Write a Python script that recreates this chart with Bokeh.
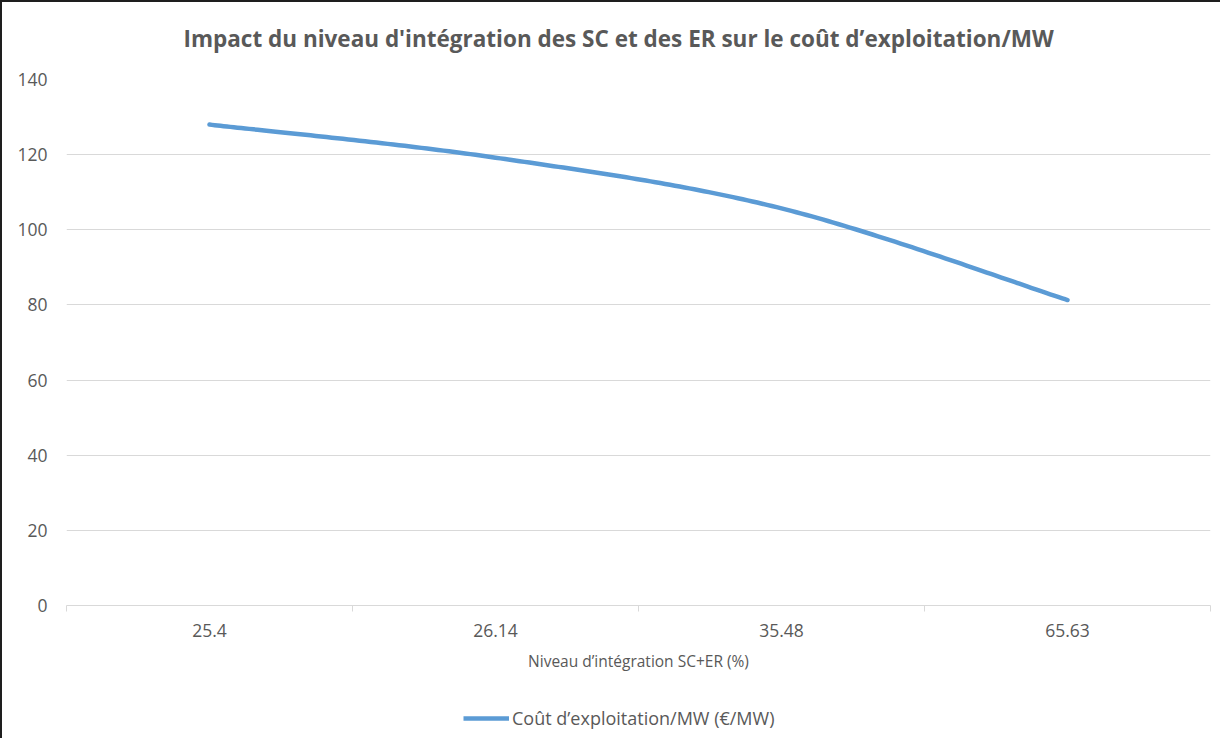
import numpy as np
from bokeh.plotting import figure
from bokeh.layouts import column
from bokeh.models import Range1d, FixedTicker, Legend, LegendItem, Label
from bokeh.embed import file_html
from bokeh.resources import INLINE

# ---- data ----
categories = ["25.4", "26.14", "35.48", "65.63"]
cost = [128.0, 119.2, 105.7, 81.3]
y_ticks = [0, 20, 40, 60, 80, 100, 120, 140]
title_text = "Impact  du niveau d'intégration des SC et des ER sur le coût d’exploitation/MW"
x_label = "Niveau d’intégration SC+ER (%)"
series_name = "Coût d’exploitation/MW (€/MW)"

GRAY = "#595959"
LINE = "#5B9BD5"
GRID = "#D9D9D9"
FONT = "Open Sans"
W = 1218

# category centres on a numeric axis (category i spans [i, i+1])
xs = np.arange(len(categories)) + 0.5
ys = np.array(cost, dtype=float)


def smooth_curve(x, y, n=60):
    """Excel-style smoothed line: cubic Bezier segments with Catmull-Rom controls."""
    P = np.column_stack([x, y])
    m = len(P)
    out = []
    t = np.linspace(0, 1, n)[:, None]
    for i in range(m - 1):
        p0 = P[i - 1] if i > 0 else P[i]
        p1 = P[i]
        p2 = P[i + 1]
        p3 = P[i + 2] if i + 2 < m else P[i + 1]
        c1 = p1 + (p2 - p0) / 6.0
        c2 = p2 - (p3 - p1) / 6.0
        seg = ((1 - t) ** 3) * p1 + 3 * ((1 - t) ** 2) * t * c1 + 3 * (1 - t) * (t ** 2) * c2 + (t ** 3) * p2
        out.append(seg if i == 0 else seg[1:])
    pts = np.vstack(out)
    return pts[:, 0], pts[:, 1]


cx, cy = smooth_curve(xs, ys)


def strip(height):
    f = figure(width=W, height=height, x_range=Range1d(0, 1), y_range=Range1d(-2, -1),
               x_axis_type=None, y_axis_type=None, output_backend="svg",
               toolbar_location=None, min_border=0)
    f.outline_line_color = None
    f.grid.grid_line_color = None
    f.background_fill_color = "white"
    f.border_fill_color = "white"
    return f


# ---- title strip (its frame is aligned with the chart's frame) ----
ts = strip(60)
ts.add_layout(Label(x=555, y=24, x_units="screen", y_units="screen", text=title_text,
                    text_align="center", text_baseline="middle", text_font=FONT,
                    text_font_size="22.5px", text_font_style="bold", text_color=GRAY))

# ---- main chart ----
p = figure(
    width=W, height=638,
    x_range=Range1d(0, len(categories)), y_range=Range1d(0, 140),
    output_backend="svg", toolbar_location=None,
    min_border_left=64, min_border_right=10, min_border_top=17, min_border_bottom=95,
)
p.outline_line_color = None
p.background_fill_color = "white"
p.border_fill_color = "white"

r = p.line(cx, cy, line_color=LINE, line_width=4.5, line_cap="round", line_join="round")

# x axis
xa = p.xaxis[0]
xa.ticker = FixedTicker(ticks=list(xs), minor_ticks=list(range(len(categories) + 1)))
xa.major_label_overrides = {float(v): c for v, c in zip(xs, categories)}
xa.major_tick_out = 0
xa.major_tick_in = 0
xa.minor_tick_out = 6
xa.minor_tick_in = 0
xa.minor_tick_line_color = GRID
xa.axis_line_color = GRID
xa.axis_line_width = 1
xa.major_label_text_font = FONT
xa.major_label_text_font_size = "17.5px"
xa.major_label_text_color = GRAY
xa.major_label_standoff = 12
xa.axis_label = x_label
xa.axis_label_text_font = FONT
xa.axis_label_text_font_size = "15.5px"
xa.axis_label_text_font_style = "normal"
xa.axis_label_text_color = GRAY
xa.axis_label_standoff = 10

# y axis
ya = p.yaxis[0]
ya.ticker = FixedTicker(ticks=y_ticks)
ya.axis_line_color = None
ya.major_tick_line_color = None
ya.major_tick_out = 0
ya.major_tick_in = 0
ya.minor_tick_line_color = None
ya.major_label_text_font = FONT
ya.major_label_text_font_size = "17.5px"
ya.major_label_text_color = GRAY
ya.major_label_standoff = 19

p.xgrid.grid_line_color = None
p.ygrid.grid_line_color = GRID
p.ygrid.grid_line_width = 1

# ---- legend strip ----
lg = strip(38)
# key renderer: same series, lying outside this strip's visible range
key = lg.line(xs / len(categories), ys, line_color=LINE, line_width=4.5)
legend = Legend(items=[LegendItem(label=series_name, renderers=[key])],
                location=(397, 8), orientation="horizontal",
                border_line_color=None, background_fill_alpha=0,
                label_text_font=FONT, label_text_font_size="18px", label_text_color=GRAY,
                glyph_width=46, glyph_height=20, label_standoff=3, padding=0, margin=0)
lg.add_layout(legend, "center")

layout = column(ts, p, lg, spacing=0,
                styles={"border-top": "2px solid #1e1e1e", "border-left": "2px solid #1e1e1e"})
open("out.html", "w").write(file_html(layout, INLINE))
